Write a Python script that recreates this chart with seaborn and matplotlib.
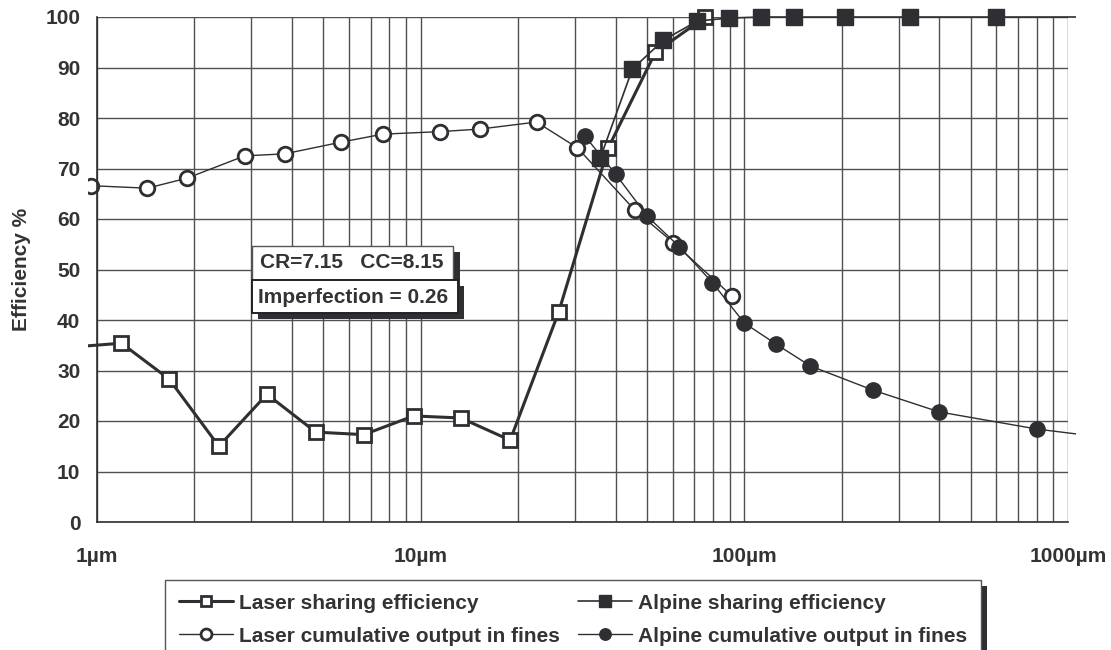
import numpy as np
import matplotlib
matplotlib.use("Agg")
import matplotlib.pyplot as plt
import seaborn as sns
from matplotlib.patches import Rectangle
from matplotlib.transforms import Bbox, TransformedBbox
from matplotlib.ticker import LogLocator, NullFormatter, FixedLocator, FixedFormatter

# Particle size (µm) and efficiency (%) for each series
laser_share_size = [0.86, 1.19, 1.67, 2.38, 3.35, 4.74, 6.67, 9.51, 13.3, 18.9, 26.7, 38.0, 53.1, 75.8]
laser_share_eff = [34.7, 35.4, 28.3, 15.0, 25.3, 17.8, 17.3, 21.0, 20.6, 16.2, 41.6, 74.1, 93.0, 100.0]

laser_cum_size = [0.955, 1.43, 1.90, 2.86, 3.80, 5.66, 7.63, 11.45, 15.2, 22.8, 30.5, 45.8, 60.4, 91.8]
laser_cum_out = [66.6, 66.1, 68.1, 72.5, 72.9, 75.2, 76.8, 77.3, 77.8, 79.2, 74.1, 61.8, 55.3, 44.7]

alpine_share_size = [35.9, 45.1, 56.2, 71.6, 89.9, 112.8, 142.6, 205, 325, 600, 1170]
alpine_share_eff = [72.1, 89.7, 95.4, 99.2, 99.8, 100, 100, 100, 100, 100, 100]

alpine_cum_size = [32.1, 40.0, 50.2, 63.0, 79.7, 100, 125.5, 159.9, 250, 400, 802, 1170]
alpine_cum_out = [76.5, 68.9, 60.5, 54.5, 47.4, 39.4, 35.2, 30.9, 26.1, 21.8, 18.4, 17.1]

series_labels = [
    "Laser sharing efficiency",
    "Laser cumulative output in fines",
    "Alpine sharing efficiency",
    "Alpine cumulative output in fines",
]

x_ticks = [1, 10, 100, 1000]
x_tick_labels = ["1µm", "10µm", "100µm", "1000µm"]
y_ticks = list(range(0, 101, 10))

sns.set_style("white")
plt.rcParams["font.family"] = ["Liberation Sans", "DejaVu Sans"]
plt.rcParams["font.weight"] = "bold"

ink = "#2e2e33"
text_c = "#333333"
grid_c = "#505050"
FS = 15

W, H = 1111, 650
fig = plt.figure(figsize=(W / 100, H / 100), dpi=100)
ax = fig.add_axes([97 / W, 1 - 522 / H, 971 / W, 505 / H])
ax.set_xscale("log")

common = dict(ax=ax, sort=False, estimator=None, color=ink, mec=ink)
sns.lineplot(x=laser_share_size, y=laser_share_eff, lw=2.2, marker="s", ms=10.5,
             mfc="white", mew=2.0, label=series_labels[0], **common)
sns.lineplot(x=laser_cum_size, y=laser_cum_out, lw=1.0, marker="o", ms=10.5,
             mfc="white", mew=2.0, label=series_labels[1], **common)
sns.lineplot(x=alpine_share_size, y=alpine_share_eff, lw=1.2, marker="s", ms=11,
             mfc=ink, mew=1.0, label=series_labels[2], **common)
sns.lineplot(x=alpine_cum_size, y=alpine_cum_out, lw=1.0, marker="o", ms=11,
             mfc=ink, mew=1.0, label=series_labels[3], **common)

ax.set_xlim(1, 1000)
ax.set_ylim(0, 100)

# Series may run a little past the plot frame before being cut off
clip_bb = TransformedBbox(Bbox.from_extents(-9 / 971, -0.06, 1 + 8 / 971, 1.06), ax.transAxes)
for ln in ax.lines:
    ln.set_clip_path(None)
    ln.set_clip_box(clip_bb)
    ln.set_clip_on(True)

ax.xaxis.set_major_locator(FixedLocator(x_ticks))
ax.xaxis.set_major_formatter(FixedFormatter(x_tick_labels))
ax.xaxis.set_minor_locator(LogLocator(base=10, subs=np.arange(2, 10)))
ax.xaxis.set_minor_formatter(NullFormatter())
ax.set_yticks(y_ticks)

ax.set_axisbelow(True)
ax.grid(True, which="both", axis="x", color=grid_c, lw=1.0)
ax.grid(True, which="major", axis="y", color=grid_c, lw=1.0)

ax.tick_params(axis="x", which="major", length=6 * 0.72, width=1, color=ink,
               direction="out", pad=14, labelsize=FS, labelcolor=text_c)
ax.tick_params(axis="x", which="minor", length=0)
ax.tick_params(axis="y", which="major", length=0, pad=12, labelsize=FS, labelcolor=text_c)
for lab in ax.get_xticklabels() + ax.get_yticklabels():
    lab.set_fontweight("bold")

for side in ("top", "right"):
    ax.spines[side].set_visible(False)
for side in ("left", "bottom"):
    ax.spines[side].set_color(ink)
    ax.spines[side].set_linewidth(1.2)

ax.set_xlabel("")
ax.set_ylabel("Efficiency %", fontsize=FS, fontweight="bold", color=text_c)
ax.yaxis.set_label_coords(-(97 - 31) / 971, 0.5)

if ax.get_legend() is not None:
    ax.get_legend().remove()

handles, labels = ax.get_legend_handles_labels()
leg = fig.legend(handles, labels, ncol=2, loc="upper left",
                 bbox_to_anchor=(165 / W, 1 - 580 / H), borderaxespad=0,
                 frameon=True, fancybox=False, edgecolor="#555555",
                 facecolor="white", framealpha=1.0,
                 borderpad=0.65, handlelength=2.6, handletextpad=0.3,
                 columnspacing=0.85, labelspacing=0.68, markerscale=0.75,
                 prop={"size": FS, "weight": "bold"})
leg.get_frame().set_linewidth(1.0)
for t in leg.get_texts():
    t.set_color(text_c)
leg.set_zorder(5)


def fig_rect(x0, y0, x1, y1, **kw):
    """Rectangle given in pixel coordinates measured from the top-left corner."""
    r = Rectangle((x0 / W, 1 - y1 / H), (x1 - x0) / W, (y1 - y0) / H,
                  transform=fig.transFigure, **kw)
    fig.add_artist(r)
    return r


# Annotation boxes with drop shadows
fig_rect(259, 252, 460, 286, facecolor=ink, edgecolor="none", zorder=6)
fig_rect(252, 246, 453, 280, facecolor="white", edgecolor="#555555", lw=1.0, zorder=7)
fig.text(260 / W, 1 - 263 / H, "CR=7.15   CC=8.15", ha="left", va="center",
         fontsize=FS, fontweight="bold", color=text_c, zorder=8)
fig_rect(258, 286, 464, 319, facecolor=ink, edgecolor="none", zorder=9)
fig_rect(252, 280, 458, 313, facecolor="white", edgecolor="#222222", lw=1.4, zorder=10)
fig.text(258 / W, 1 - 297 / H, "Imperfection = 0.26", ha="left", va="center",
         fontsize=FS, fontweight="bold", color=text_c, zorder=11)

# Drop shadow behind the legend box
fig.canvas.draw()
bb = leg.get_window_extent()
fw, fh = fig.bbox.width, fig.bbox.height
shadow = Rectangle(((bb.x0 + 6) / fw, (bb.y0 - 6) / fh), bb.width / fw, bb.height / fh,
                   transform=fig.transFigure, facecolor=ink, edgecolor="none", zorder=4)
fig.add_artist(shadow)

fig.savefig("out.png", dpi=100)
